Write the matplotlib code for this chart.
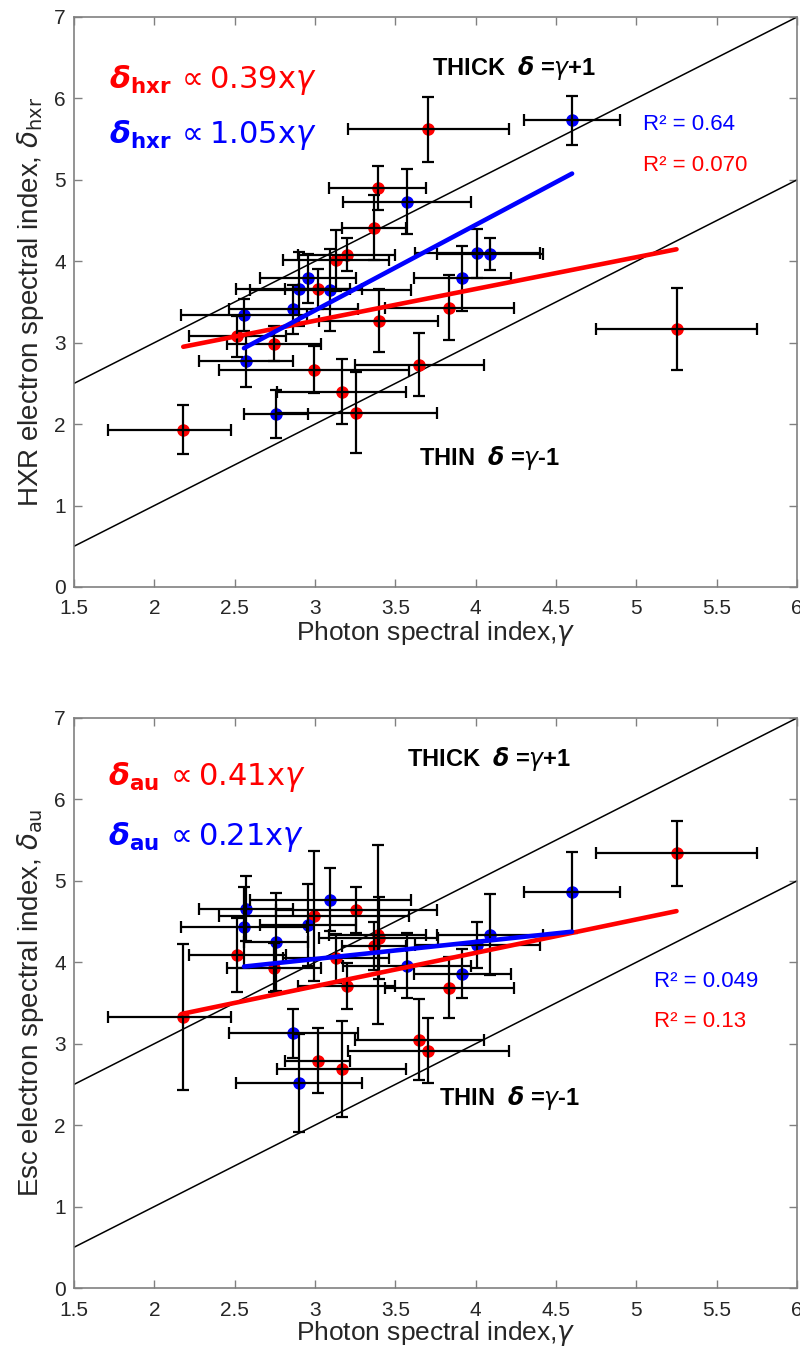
import numpy as np
import matplotlib
matplotlib.use("Agg")
import matplotlib.pyplot as plt

# ---- events shown as red circles (photon index shared by both panels) ----
gamma_red = [2.18, 2.517, 2.745, 2.995, 3.016, 3.13, 3.166, 3.197,
             3.257, 3.367, 3.39, 3.396, 3.649, 3.705, 3.836, 5.25]
gamma_red_lo = [0.47, 0.30, 0.29, 0.59, 0.20, 0.33, 0.40, 0.30,
                0.50, 0.20, 0.30, 0.37, 0.40, 0.50, 0.40, 0.50]
gamma_red_hi = [0.30, 0.30, 0.29, 0.59, 0.20, 0.33, 0.40, 0.30,
                0.50, 0.20, 0.30, 0.37, 0.40, 0.50, 0.40, 0.50]
delta_hxr_red = [1.93, 3.08, 2.99, 2.67, 3.66, 4.01, 2.40, 4.08,
                 2.14, 4.41, 4.90, 3.27, 2.73, 5.62, 3.43, 3.17]
delta_hxr_red_err = [0.30, 0.25, 0.22, 0.29, 0.25, 0.38, 0.40, 0.20,
                     0.50, 0.40, 0.27, 0.39, 0.39, 0.40, 0.40, 0.50]
delta_au_red = [3.33, 4.09, 3.935, 4.57, 2.79, 4.05, 2.69, 3.71,
                4.64, 4.20, 4.34, 4.30, 3.05, 2.915, 3.69, 5.34]
delta_au_red_err = [0.90, 0.45, 0.30, 0.80, 0.40, 0.30, 0.59, 0.28,
                    0.28, 0.30, 1.10, 0.50, 0.50, 0.40, 0.37, 0.40]

# ---- events shown as blue circles ----
gamma_blue = [2.558, 2.57, 2.757, 2.866, 2.90, 2.955, 3.096, 3.574,
              3.918, 4.01, 4.09, 4.60]
gamma_blue_err = [0.39, 0.29, 0.20, 0.40, 0.39, 0.30, 0.50, 0.40,
                  0.30, 0.39, 0.33, 0.30]
delta_hxr_blue = [3.34, 2.77, 2.125, 3.41, 3.66, 3.79, 3.65, 4.73,
                  3.79, 4.10, 4.09, 5.73]
delta_hxr_blue_err = [0.20, 0.31, 0.30, 0.30, 0.45, 0.30, 0.50, 0.40,
                      0.40, 0.30, 0.20, 0.30]
delta_au_blue = [4.43, 4.66, 4.25, 3.13, 2.52, 4.46, 4.77, 3.96,
                 3.86, 4.21, 4.34, 4.86]
delta_au_blue_err = [0.50, 0.40, 0.60, 0.30, 0.60, 0.50, 0.39, 0.40,
                     0.30, 0.28, 0.50, 0.50]

# ---- linear fits: slope, intercept and R^2 ----
fit_hxr_red = (0.39, 2.10, "0.070")
fit_hxr_blue = (1.05, 0.247, "0.64")
fit_au_red = (0.41, 2.476, "0.13")
fit_au_blue = (0.21, 3.41, "0.049")

x_ticks = [1.5, 2, 2.5, 3, 3.5, 4, 4.5, 5, 5.5, 6]
x_tick_labels = ["1.5", "2", "2.5", "3", "3.5", "4", "4.5", "5", "5.5", "6"]
y_ticks = [0, 1, 2, 3, 4, 5, 6, 7]

RED = (1, 0, 0)
BLUE = (0, 0, 1)
AXCOL = "#808080"
TXT = "#262626"
SANS = ["Liberation Sans", "DejaVu Sans"]

plt.rcParams["mathtext.fontset"] = "dejavusans"

fig = plt.figure(figsize=(8.0, 13.51), dpi=100)


def panel(rect, d_red, e_red, d_blue, e_blue, f_red, f_blue, sub, ylabel,
          thick_xy, thin_xy, r2_xy, form_xy):
    ax = fig.add_axes(rect)
    ax.set_xlim(1.5, 6)
    ax.set_ylim(0, 7)

    # thick / thin target reference lines
    gx = np.array([1.5, 6.0])
    ax.plot(gx, gx + 1, color="black", lw=1.1, zorder=2)
    ax.plot(gx, gx - 1, color="black", lw=1.1, zorder=2)

    ax.plot(gamma_red, d_red, "o", ms=8, color=RED, mec=RED, zorder=3)
    ax.plot(gamma_blue, d_blue, "o", ms=8, color=BLUE, mec=BLUE, zorder=3)
    ax.errorbar(gamma_red, d_red, xerr=[gamma_red_lo, gamma_red_hi], yerr=e_red,
                fmt="none", ecolor="black", elinewidth=1.6, capsize=4.5,
                capthick=1.6, zorder=4)
    ax.errorbar(gamma_blue, d_blue, xerr=gamma_blue_err, yerr=e_blue,
                fmt="none", ecolor="black", elinewidth=1.6, capsize=4.5,
                capthick=1.6, zorder=4)

    # fitted trends over each group's range
    for g, (m, b, _), col in ((gamma_red, f_red, RED), (gamma_blue, f_blue, BLUE)):
        fx = np.array([min(g), max(g)])
        ax.plot(fx, m * fx + b, color=col, lw=3.3, solid_capstyle="round", zorder=5)

    ax.text(form_xy[0], form_xy[1],
            r"$\boldsymbol{\delta}_{\mathbf{%s}}\,\propto$%.2fx$\gamma$" % (sub, f_red[0]),
            color=RED, fontsize=22, family="DejaVu Sans", va="baseline", zorder=6)
    ax.text(form_xy[0], form_xy[2],
            r"$\boldsymbol{\delta}_{\mathbf{%s}}\,\propto$%.2fx$\gamma$" % (sub, f_blue[0]),
            color=BLUE, fontsize=22, family="DejaVu Sans", va="baseline", zorder=6)

    ax.text(thick_xy[0], thick_xy[1], r"THICK  $\boldsymbol{\delta}$ =$\gamma$+1",
            fontsize=17, fontweight="bold", family=SANS, va="baseline", zorder=6)
    ax.text(thin_xy[0], thin_xy[1], r"THIN  $\boldsymbol{\delta}$ =$\gamma$-1",
            fontsize=17, fontweight="bold", family=SANS, va="baseline", zorder=6)

    ax.text(r2_xy[0], r2_xy[1], "R\u00b2 = " + f_blue[2], color=BLUE,
            fontsize=16, family=SANS, va="baseline", zorder=6)
    ax.text(r2_xy[0], r2_xy[2], "R\u00b2 = " + f_red[2], color=RED,
            fontsize=16, family=SANS, va="baseline", zorder=6)

    ax.set_xticks(x_ticks)
    ax.set_xticklabels(x_tick_labels)
    ax.set_yticks(y_ticks)
    ax.tick_params(direction="in", top=True, right=True, length=6, width=1,
                   color=AXCOL, labelsize=15, labelcolor=TXT)
    ax.tick_params(axis="x", pad=9)
    ax.tick_params(axis="y", pad=6)
    for lab in ax.get_xticklabels() + ax.get_yticklabels():
        lab.set_family(SANS)
    for s in ax.spines.values():
        s.set_color(AXCOL)
        s.set_linewidth(1.2)
    ax.set_xlabel(r"Photon spectral index,$\gamma$", fontsize=19, color=TXT,
                  family=SANS, labelpad=0)
    ax.set_ylabel(ylabel, fontsize=20, color=TXT, family=SANS, labelpad=6)
    return ax


L, W, H = 74 / 800, (797 - 74) / 800, 570 / 1351
panel([L, 1 - 587 / 1351, W, H],
      delta_hxr_red, delta_hxr_red_err, delta_hxr_blue, delta_hxr_blue_err,
      fit_hxr_red, fit_hxr_blue, "hxr",
      r"HXR electron spectral index, $\delta_{\rm hxr}$",
      thick_xy=(3.73, 6.29), thin_xy=(3.65, 1.50), r2_xy=(5.04, 5.61, 5.11),
      form_xy=(1.72, 6.13, 5.45))
panel([L, 1 - 1288 / 1351, W, H],
      delta_au_red, delta_au_red_err, delta_au_blue, delta_au_blue_err,
      fit_au_red, fit_au_blue, "au",
      r"Esc electron spectral index, $\delta_{\rm au}$",
      thick_xy=(3.575, 6.41), thin_xy=(3.77, 2.25), r2_xy=(5.11, 3.70, 3.21),
      form_xy=(1.71, 6.18, 5.44))

fig.savefig("out.png", dpi=100)
